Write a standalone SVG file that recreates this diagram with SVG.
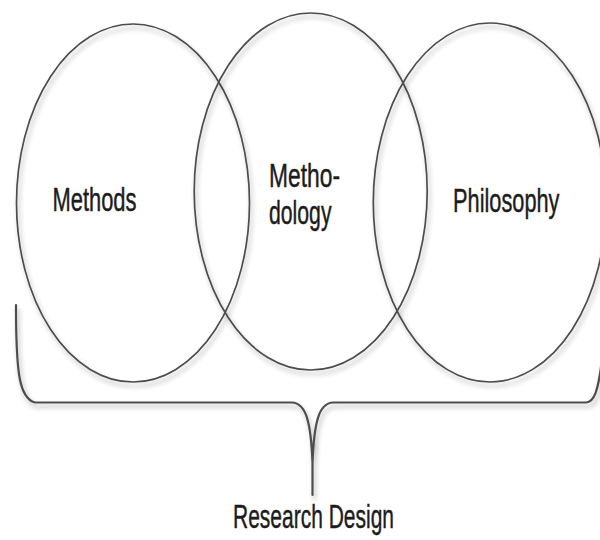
<svg xmlns="http://www.w3.org/2000/svg" width="600" height="540" viewBox="0 0 600 540">
  <defs>
    <!-- soft grey drop shadow under the outlines -->
    <filter id="shadow" x="-10%" y="-10%" width="120%" height="125%">
      <feGaussianBlur in="SourceAlpha" stdDeviation="2.4" result="blur"/>
      <feOffset in="blur" dx="2" dy="3.5" result="off"/>
      <feComponentTransfer in="off" result="soft">
        <feFuncA type="linear" slope="0.32"/>
      </feComponentTransfer>
      <feMerge>
        <feMergeNode in="soft"/>
        <feMergeNode in="SourceGraphic"/>
      </feMerge>
    </filter>
    <style>
      .ring { fill: none; stroke: #4d4d4d; stroke-width: 1.7; }
      .brace { fill: none; stroke: #4d4d4d; stroke-width: 2.2; stroke-linecap: round; stroke-linejoin: round; }
      .label { font-family: "Liberation Sans", Arial, sans-serif; font-size: 33px; fill: #1c1c1c; stroke: #1c1c1c; stroke-width: 0.45; }
    </style>
  </defs>

  <rect width="600" height="540" fill="#ffffff"/>

  <g id="node-methods">
    <ellipse class="ring" filter="url(#shadow)" cx="133" cy="203" rx="116.5" ry="179"/>
    <text class="label" x="52.5" y="210.7" textLength="84" lengthAdjust="spacingAndGlyphs">Methods</text>
  </g>

  <g id="node-methodology">
    <ellipse class="ring" filter="url(#shadow)" cx="310.7" cy="191.5" rx="116.5" ry="178.5"/>
    <text class="label" x="269" y="187" textLength="71" lengthAdjust="spacingAndGlyphs">Metho-</text>
    <text class="label" x="269" y="224" textLength="62.5" lengthAdjust="spacingAndGlyphs">dology</text>
  </g>

  <g id="node-philosophy">
    <ellipse class="ring" filter="url(#shadow)" cx="489.8" cy="202.5" rx="116.5" ry="179.5"/>
    <text class="label" x="453" y="211.7" textLength="106.5" lengthAdjust="spacingAndGlyphs">Philosophy</text>
  </g>

  <g id="connectors">
    <!-- curly brace gathering the three circles -->
    <path class="brace" filter="url(#shadow)"
          d="M16,305 C16,372 19,398 35,402.5 L292,402.5 C306,403 311,422 312.5,463 L312.5,495
             M312.5,463 C314,422 319,403 333,402.5 L586,402.5 C594,402 598,392 602,360"/>
  </g>

  <g id="node-research-design">
    <text class="label" x="233" y="527.5" textLength="161" lengthAdjust="spacingAndGlyphs">Research Design</text>
  </g>
</svg>
